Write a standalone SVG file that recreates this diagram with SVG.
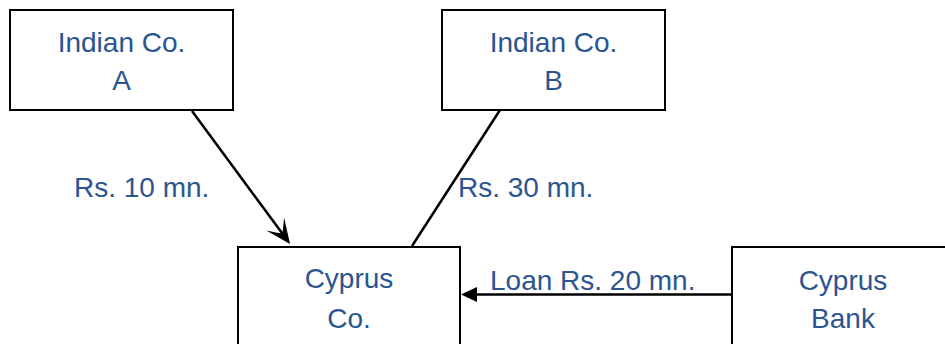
<svg xmlns="http://www.w3.org/2000/svg" width="945" height="344" viewBox="0 0 945 344">
<defs>
<style>
.box{fill:#fff;stroke:#000;stroke-width:2}
.t{font-family:"Liberation Sans",Arial,sans-serif;font-size:28px;fill:#2B5590;text-anchor:middle}
.tl{font-family:"Liberation Sans",Arial,sans-serif;font-size:28px;fill:#2B5590}
.ln{stroke:#000;stroke-width:2.5;fill:none}
</style>
<marker id="concave" markerUnits="userSpaceOnUse" orient="auto" refX="0" refY="0" markerWidth="40" markerHeight="40" viewBox="-30 -15 40 30" overflow="visible">
<path d="M8,0 L-17,-11 Q-9,-4 -5,0 Q-9,4 -17,11 Z" fill="#000"/>
</marker>
<marker id="tri" markerUnits="userSpaceOnUse" orient="auto" refX="0" refY="0" markerWidth="30" markerHeight="30" viewBox="-20 -10 30 20" overflow="visible">
<path d="M4,0 L-12,-7.5 L-12,7.5 Z" fill="#000"/>
</marker>
</defs>
<rect width="945" height="344" fill="#fff"/>
<g id="connectors">
<line class="ln" x1="192" y1="111" x2="285.3" y2="237.6" marker-end="url(#concave)"/>
<line class="ln" x1="500" y1="110" x2="412" y2="246"/>
<line class="ln" x1="738" y1="294.5" x2="465" y2="294.5" marker-end="url(#tri)"/>
</g>
<g id="indianA">
<rect class="box" x="10" y="10" width="223" height="100"/>
<text class="t" x="121.5" y="52">Indian Co.</text>
<text class="t" x="121.5" y="90">A</text>
</g>
<g id="indianB">
<rect class="box" x="442" y="10" width="223" height="100"/>
<text class="t" x="553.5" y="52">Indian Co.</text>
<text class="t" x="553.5" y="90">B</text>
</g>
<g id="cyprusCo">
<rect class="box" x="238" y="247" width="222" height="120"/>
<text class="t" x="349" y="288">Cyprus</text>
<text class="t" x="349" y="328">Co.</text>
</g>
<g id="cyprusBank">
<rect class="box" x="732" y="247" width="230" height="120"/>
<text class="t" x="843" y="290">Cyprus</text>
<text class="t" x="843" y="328">Bank</text>
</g>
<g id="labels">
<text class="tl" x="74" y="197">Rs. 10 mn.</text>
<text class="tl" x="458" y="197">Rs. 30 mn.</text>
<text class="tl" x="490" y="290">Loan Rs. 20 mn.</text>
</g>
</svg>
